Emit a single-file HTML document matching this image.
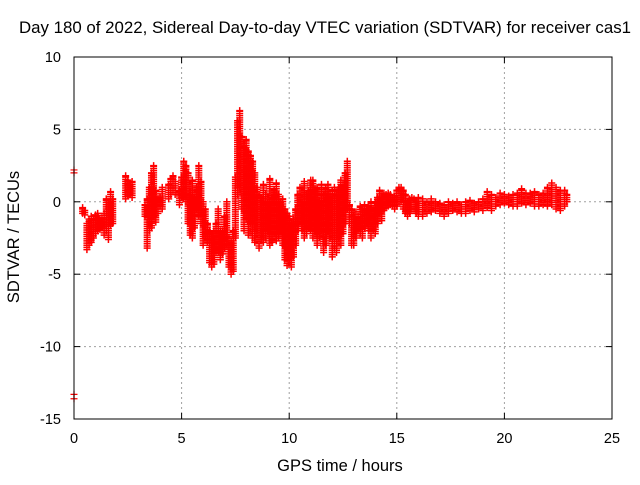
<!DOCTYPE html>
<html><head><meta charset="utf-8"><style>
body{margin:0;background:#fff}
svg text{font-family:"Liberation Sans",sans-serif;font-size:14.5px;fill:#000}
svg text.big{font-size:16.5px}
</style></head><body>
<svg id="chart" width="640" height="480" viewBox="0 0 640 480" xmlns="http://www.w3.org/2000/svg">
<rect width="640" height="480" fill="#fff"/>
<g id="grid"></g>
<g id="marks"></g>
<rect x="74" y="57" width="538" height="362" fill="none" stroke="#000" stroke-width="1"/>
<g id="ticks"></g>
<text class="big" x="325" y="33" text-anchor="middle" textLength="612" lengthAdjust="spacingAndGlyphs">Day 180 of 2022, Sidereal Day-to-day VTEC variation (SDTVAR) for receiver cas1</text>
<text class="big" x="340" y="471" text-anchor="middle">GPS time / hours</text>
<text class="big" x="0" y="0" text-anchor="middle" transform="translate(19,237) rotate(-90)">SDTVAR / TECUs</text>
</svg>
<script>
const xTicks=[0,5,10,15,20,25];
const yTicks=[10,5,0,-5,-10,-15];
const times=[0.4,0.5,0.6,0.7,0.8,0.9,1.0,1.1,1.2,1.3,1.4,1.5,1.6,1.7,1.8,2.4,2.5,2.6,2.7,3.3,3.4,3.5,3.6,3.7,3.8,3.9,4.0,4.1,4.4,4.5,4.6,4.7,4.9,5.0,5.1,5.2,5.3,5.4,5.5,5.6,5.7,5.8,5.9,6.0,6.1,6.2,6.3,6.4,6.5,6.6,6.7,6.8,6.9,7.0,7.1,7.2,7.3,7.4,7.5,7.6,7.7,7.8,7.9,8.0,8.1,8.2,8.3,8.4,8.5,8.6,8.7,8.8,8.9,9.0,9.1,9.2,9.3,9.4,9.5,9.6,9.7,9.8,9.9,10.0,10.1,10.2,10.3,10.4,10.5,10.6,10.7,10.8,10.9,11.0,11.1,11.2,11.3,11.4,11.5,11.6,11.7,11.8,11.9,12.0,12.1,12.2,12.3,12.4,12.5,12.6,12.7,12.8,12.9,13.0,13.1,13.2,13.3,13.4,13.5,13.6,13.7,13.8,13.9,14.0,14.1,14.2,14.3,14.4,14.5,14.6,14.7,14.8,14.9,15.0,15.1,15.2,15.3,15.4,15.5,15.6,15.7,15.8,15.9,16.0,16.2,16.4,16.6,16.8,17.0,17.2,17.4,17.6,17.8,18.0,18.2,18.4,18.6,18.8,19.0,19.2,19.4,19.6,19.8,20.0,20.2,20.4,20.6,20.8,21.0,21.2,21.4,21.6,21.8,22.0,22.2,22.4,22.6,22.8,22.9];
const lowVals=[-0.8,-0.9,-3.3,-3.0,-2.8,-2.5,-2.2,-2.0,-1.9,-1.8,-2.3,-2.0,-2.6,-1.6,-1.5,0.2,0.4,0.5,0.3,-1.0,-3.2,-2.0,-1.8,-1.0,-1.4,-0.8,-0.3,-0.5,0.2,0.5,0.8,0.5,-0.2,0.3,0.2,0.0,-1.5,-2.3,-2.5,-1.8,-0.5,-1.0,-1.5,-3.0,-2.5,-2.8,-4.2,-4.5,-4.3,-3.5,-3.5,-4.0,-3.6,-3.2,-3.0,-4.5,-5.0,-4.8,-2.5,0.5,1.0,-0.5,-2.0,-1.2,-2.3,-1.5,-2.5,-2.8,-2.0,-3.2,-2.6,-2.8,-2.5,-2.0,-3.0,-2.8,-2.2,-2.7,-2.5,-2.0,-3.0,-4.0,-4.4,-4.0,-4.5,-3.8,-3.0,-2.0,-1.5,-2.0,-2.5,-2.2,-1.8,-2.0,-2.5,-2.0,-3.0,-2.5,-2.0,-3.5,-3.0,-2.0,-2.5,-3.8,-3.2,-3.5,-2.5,-3.0,-2.2,-1.5,-0.5,-1.5,-3.0,-3.0,-2.5,-2.0,-2.2,-2.5,-1.8,-1.5,-2.0,-2.5,-2.0,-2.2,-1.5,-0.8,-1.3,-0.6,-0.4,-0.3,-0.2,-0.3,-0.5,-0.3,0.0,0.0,-0.5,-0.8,-1.0,-0.8,-0.5,-0.5,-0.8,-1.0,-1.0,-0.8,-0.7,-0.6,-0.8,-1.0,-0.8,-0.6,-0.7,-0.8,-0.8,-0.6,-0.7,-0.5,-0.6,-0.4,-0.6,-0.3,-0.2,-0.1,-0.2,-0.3,-0.3,-0.1,-0.2,-0.1,-0.3,-0.3,-0.2,-0.3,-0.2,-0.5,-0.6,-0.3,0.0];
const highVals=[-0.4,-0.6,-1.5,-1.2,-1.0,-1.2,-0.9,-0.8,-1.2,-1.1,-0.8,0.2,-0.2,0.7,0.2,1.8,1.5,1.2,1.4,-0.2,0.2,1.0,2.0,2.5,0.8,0.2,0.3,1.0,1.2,1.6,1.8,1.4,0.8,1.7,2.8,2.5,2.0,0.5,1.5,0.3,1.0,2.5,1.4,0.0,-0.5,-1.5,-2.0,-2.5,-2.0,-1.5,-0.5,-2.0,-2.0,-1.0,0.0,-2.5,-2.8,-2.0,1.7,5.6,6.3,4.5,3.8,4.3,3.5,3.2,2.8,2.0,1.0,0.5,0.3,1.2,0.5,0.0,1.6,0.3,0.8,1.3,0.5,0.0,0.2,-0.5,-0.8,-1.0,-1.5,-1.2,-0.5,0.5,1.0,0.0,1.4,0.5,0.8,1.5,1.5,0.8,1.0,0.0,1.2,0.5,1.0,1.2,0.5,0.8,1.0,0.5,1.0,1.5,1.2,2.0,2.8,-0.2,-0.5,-1.0,-0.7,-1.0,-0.3,-0.5,-0.2,-0.5,-0.3,0.0,-0.5,0.0,0.3,0.8,0.3,0.6,0.5,0.6,0.5,0.3,0.4,0.8,1.0,1.0,0.8,0.5,0.0,0.2,0.3,0.2,0.0,0.3,0.2,0.0,0.2,0.0,-0.1,-0.2,0.0,-0.1,0.0,-0.2,0.0,0.1,-0.1,0.0,0.2,0.7,0.5,0.3,0.6,0.5,0.4,0.5,0.6,0.9,0.6,0.6,0.7,0.5,0.6,1.0,1.3,1.0,0.8,0.8,0.5];
const outlierTimes=[0,0,0,0];
const outlierVals=[2.2,2.0,-13.3,-13.6];

const NS='http://www.w3.org/2000/svg';
const X0=74,X1=612,Y0=419,Y1=57;
function xs(t){return X0+(t-0)/(25-0)*(X1-X0);}
function ys(v){return Y0-(v-(-15))/(10-(-15))*(Y0-Y1);}
function mk(tag,attrs,parent){const e=document.createElementNS(NS,tag);for(const k in attrs)e.setAttribute(k,attrs[k]);parent.appendChild(e);return e;}
const grid=document.getElementById('grid'),ticks=document.getElementById('ticks'),marks=document.getElementById('marks');
xTicks.forEach(t=>{const x=xs(t);
 if(t>0&&t<25){const g=mk('line',{x1:x,x2:x,y1:Y1,y2:Y0,stroke:'#a0a0a0','stroke-dasharray':'2,3'},grid);
 
 }
 mk('line',{x1:x,x2:x,y1:Y0,y2:Y0-6,stroke:'#000'},ticks);
 mk('line',{x1:x,x2:x,y1:Y1,y2:Y1+6,stroke:'#000'},ticks);
 const l=mk('text',{x:x,y:443,'text-anchor':'middle'},ticks);l.textContent=t;
 
 
});
yTicks.forEach(v=>{const y=ys(v);
 if(v>-15&&v<10){const g=mk('line',{x1:X0,x2:X1,y1:y,y2:y,stroke:'#a0a0a0','stroke-dasharray':'2,3'},grid);
 
 }
 mk('line',{x1:X0,x2:X0+6,y1:y,y2:y,stroke:'#000'},ticks);
 mk('line',{x1:X1,x2:X1-6,y1:y,y2:y,stroke:'#000'},ticks);
 const l=mk('text',{x:61,y:y+5,'text-anchor':'end'},ticks);l.textContent=v;
 
 
});
function plus(x,y){return 'M'+(x-3.5)+' '+y+'h7M'+x+' '+(y-3.5)+'v7';}
times.forEach((t,i)=>{
 const x=xs(t);let d='';const lo=lowVals[i],hi=highVals[i];
 for(let v=lo;v<hi;v+=0.15)d+=plus(x,ys(v));
 d+=plus(x,ys(hi));
 const p=mk('path',{d:d,stroke:'#ff0000','stroke-width':1.5,fill:'none'},marks);
 
 
});
outlierTimes.forEach((t,i)=>{
 const p=mk('path',{d:plus(xs(t),ys(outlierVals[i])),stroke:'#ff0000','stroke-width':1.2,fill:'none'},marks);
 
 
});
</script>
</body></html>
